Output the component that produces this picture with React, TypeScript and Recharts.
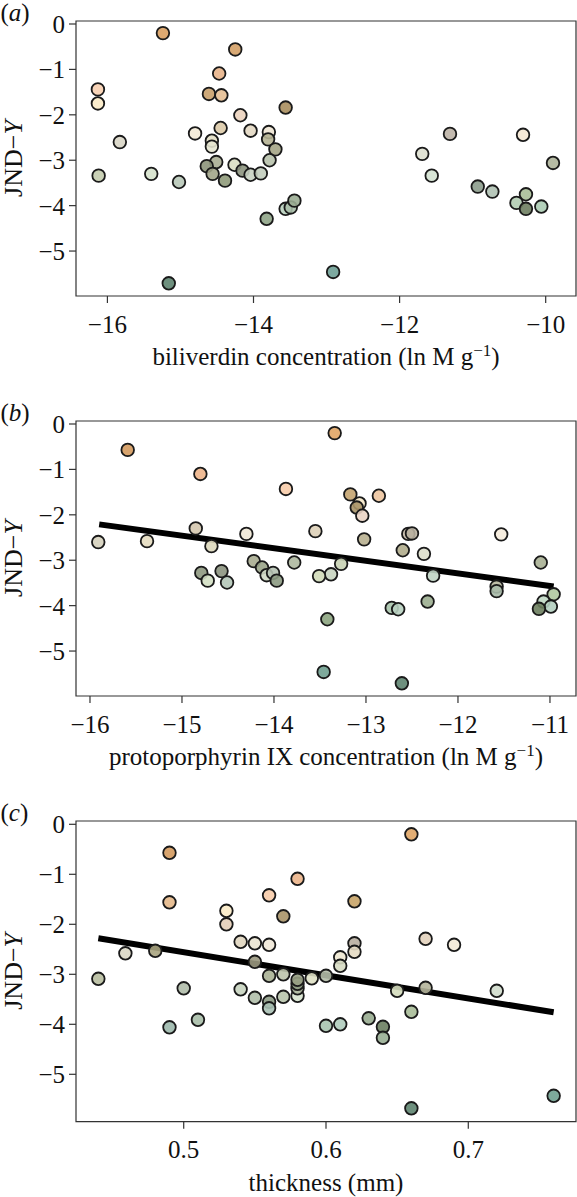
import React from "react";
import { ScatterChart, Scatter, XAxis, YAxis, ReferenceArea, Cell, Label } from "recharts";

const FONT = "'Liberation Serif', 'Times New Roman', Times, serif";

// ---------- Panel (a): biliverdin ----------
const biliverdinX = [-15.24, -14.25, -14.47, -16.13, -14.61, -14.44, -16.13, -13.56, -14.18, -14.45, -14.80, -14.04, -13.79, -13.80, -15.83, -14.57, -14.57, -13.70, -13.78, -14.51, -14.26, -14.64, -14.56, -14.15, -14.04, -13.90, -14.39, -16.12, -15.40, -15.02, -13.82, -13.56, -13.49, -13.44, -15.16, -12.91, -11.69, -11.56, -11.31, -10.31, -10.93, -10.73, -9.90, -10.27, -10.40, -10.27, -10.06];
const biliverdinY = [-0.20, -0.56, -1.09, -1.44, -1.54, -1.57, -1.75, -1.84, -2.01, -2.29, -2.41, -2.35, -2.38, -2.54, -2.60, -2.57, -2.70, -2.76, -3.00, -3.04, -3.10, -3.13, -3.30, -3.23, -3.32, -3.29, -3.45, -3.34, -3.30, -3.48, -4.29, -4.07, -4.04, -3.89, -5.71, -5.46, -2.86, -3.34, -2.42, -2.44, -3.58, -3.69, -3.06, -3.75, -3.94, -4.07, -4.02];
const biliverdinColors = ["#D9A062", "#D4A066", "#E8B48A", "#F7CFB0", "#C9A06A", "#E6BF94", "#FBEBC8", "#A88E5E", "#EBD3BE", "#DCCAA8", "#F3EAD6", "#E3D8C3", "#EEE6D4", "#B5B394", "#D9D6C6", "#E2DEC4", "#E6E5D0", "#A5A586", "#B8C2AC", "#AAAE94", "#DADFC2", "#8C947A", "#A2A58A", "#8C947E", "#C8D2C2", "#C2CDBD", "#8F9A7A", "#C4CCAE", "#D6E2CC", "#B8C8B8", "#8FA487", "#B8CFBC", "#A8BEA8", "#9AAC92", "#5E8470", "#6FA096", "#DEE0D0", "#D4E2D2", "#BDB2A6", "#F5E8D4", "#8C9C8C", "#B0C2B4", "#AEB49A", "#AABF98", "#B4CDB4", "#6E7E60", "#ACCCB4"];
const biliverdinTicks = [-16, -14, -12, -10];

// ---------- Panel (b): protoporphyrin IX ----------
const protoX = [-15.59, -14.80, -13.87, -15.91, -14.85, -15.38, -14.68, -14.30, -14.79, -14.72, -14.57, -14.51, -14.22, -14.13, -14.08, -14.01, -13.97, -13.78, -13.55, -13.34, -13.17, -13.07, -13.10, -13.04, -12.86, -13.02, -12.60, -12.54, -12.50, -12.37, -11.53, -13.27, -13.38, -13.51, -12.27, -11.58, -11.58, -11.10, -10.96, -11.07, -10.99, -11.12, -12.33, -12.72, -12.65, -13.42, -13.46, -12.61];
const protoY = [-0.57, -1.10, -1.43, -2.60, -2.30, -2.58, -2.69, -2.42, -3.28, -3.45, -3.24, -3.49, -3.02, -3.16, -3.33, -3.28, -3.45, -3.05, -2.36, -0.20, -1.55, -1.75, -1.84, -2.02, -1.58, -2.54, -2.78, -2.42, -2.41, -2.86, -2.43, -3.08, -3.31, -3.35, -3.34, -3.58, -3.68, -3.05, -3.75, -3.91, -4.02, -4.07, -3.91, -4.05, -4.08, -4.30, -5.46, -5.71];
const protoColors = ["#D49A5E", "#EDB48A", "#F7CCAA", "#D6D2BE", "#D4C7AE", "#E4DCC0", "#DDD8BC", "#F0E8D6", "#8E9880", "#D4E0C4", "#8C9480", "#B4C6B8", "#A8AC90", "#9AA488", "#D0D9C4", "#B6C2B2", "#8C9A82", "#AEB8A0", "#DDD0B8", "#E0A565", "#C4A470", "#F5E8C8", "#A89468", "#EAD4C4", "#ECC49E", "#B8B090", "#B0AC8C", "#C5BAA8", "#B8B0A0", "#DEDFCC", "#F5EBDC", "#C8D2B4", "#C8D4C0", "#D0DAB8", "#C0D4C4", "#B8B8A0", "#A8BAA8", "#A8B094", "#B0C8A0", "#C0D8C4", "#B4CFC0", "#6C7E5E", "#9CAE90", "#A8C4AC", "#B8D0C0", "#8CA480", "#70A090", "#5E8470"];
const protoTicks = [-16, -15, -14, -13, -12, -11];
const protoFitX = [-15.90, -10.96];
const protoFitY = [-2.21, -3.58];

// ---------- Panel (c): thickness ----------
const thickX = [0.49, 0.49, 0.56, 0.57, 0.58, 0.53, 0.53, 0.54, 0.55, 0.56, 0.44, 0.459, 0.48, 0.55, 0.50, 0.49, 0.51, 0.54, 0.55, 0.56, 0.57, 0.56, 0.56, 0.57, 0.62, 0.62, 0.62, 0.61, 0.61, 0.58, 0.58, 0.58, 0.58, 0.59, 0.60, 0.61, 0.63, 0.66, 0.67, 0.69, 0.65, 0.67, 0.72, 0.66, 0.60, 0.64, 0.64, 0.66, 0.76];
const thickY = [-0.57, -1.56, -1.42, -1.84, -1.09, -1.73, -2.00, -2.35, -2.38, -2.41, -3.09, -2.58, -2.53, -2.75, -3.28, -4.06, -3.91, -3.30, -3.47, -3.03, -3.00, -3.55, -3.68, -3.45, -1.54, -2.38, -2.55, -2.66, -2.83, -3.43, -3.28, -3.19, -3.11, -3.08, -3.03, -4.00, -3.88, -0.20, -2.29, -2.41, -3.33, -3.27, -3.33, -3.75, -4.03, -4.05, -4.27, -5.68, -5.43];
const thickColors = ["#D49A5E", "#E4B88A", "#F7CCAA", "#A89468", "#EBB48A", "#FBEBC8", "#E4CEB8", "#E0D6C0", "#EAE4D2", "#F0E8D8", "#B8BEA0", "#DCD8C6", "#A8A480", "#9A9880", "#B0BCAA", "#9CB8AC", "#A8BEA8", "#C8D4C0", "#B0BEAA", "#A8B094", "#BCC4AC", "#8C9A84", "#A8C0B4", "#B8C4AC", "#C8A468", "#B8AEA0", "#E6DCC4", "#EEE8D2", "#D6DAC2", "#D8E4D0", "#AEB8A0", "#8C9A80", "#98A084", "#DEE0C4", "#B4BCA8", "#B0CCBC", "#98AC90", "#E0A565", "#E2D2BC", "#F4EAD8", "#D4DCBC", "#B4B49A", "#D0DCCC", "#A8BC98", "#A8C4B0", "#6C7E60", "#98AE94", "#5E8470", "#70A090"];
const thickTicks = [0.5, 0.6, 0.7];
const thickFitX = [0.44, 0.76];
const thickFitY = [-2.28, -3.76];

const yTicks = [0, -1, -2, -3, -4, -5];

const fmt = (v: number) => (v < 0 ? "\u2212" + String(Math.abs(v)) : String(v));

const Dot = (props: any) => {
  const { cx, cy, fill } = props;
  if (cx == null || cy == null) return <g />;
  return (
    <circle cx={cx} cy={cy} r={6.3} fill={fill} fillOpacity={0.9} stroke="#1a1a1a" strokeWidth={1.8} />
  );
};

const NoDot = () => <g />;

type PanelProps = {
  top: number;
  height: number;
  plotHeight: number;
  xDomain: [number, number];
  yDomain: [number, number];
  xTicks: number[];
  xs: number[];
  ys: number[];
  colors: string[];
  fitX?: number[];
  fitY?: number[];
  letter: string;
  title: React.ReactNode;
};

function Panel(p: PanelProps) {
  const plotTop = 21;
  const plotBottom = plotTop + p.plotHeight;
  const xAxisHeight = p.height - plotBottom;
  const data = p.xs.map((x, i) => ({ x, y: p.ys[i] }));
  const fitData = p.fitX && p.fitY ? p.fitX.map((x, i) => ({ x, y: p.fitY![i] })) : null;
  const midY = plotTop + p.plotHeight / 2;
  return (
    <div style={{ position: "absolute", left: 0, top: p.top, width: 577, height: p.height }}>
      <ScatterChart width={577} height={p.height} margin={{ top: plotTop, right: 1, bottom: 0, left: 0 }}>
        <XAxis
          type="number"
          dataKey="x"
          domain={p.xDomain}
          allowDataOverflow
          ticks={p.xTicks}
          interval={0}
          tickFormatter={fmt}
          tickSize={7}
          tickMargin={12}
          axisLine={false}
          tickLine={{ stroke: "#333", strokeWidth: 1.2 }}
          tick={{ fontFamily: FONT, fontSize: 25, fill: "#111" }}
          height={xAxisHeight}
        >
          <Label
            content={() => (
              <text x={326} y={plotBottom + 69} textAnchor="middle" fontFamily={FONT} fontSize={25} fill="#111">
                {p.title}
              </text>
            )}
          />
        </XAxis>
        <YAxis
          type="number"
          dataKey="y"
          domain={p.yDomain}
          allowDataOverflow
          ticks={yTicks}
          interval={0}
          tickFormatter={fmt}
          tickSize={7}
          tickMargin={4}
          axisLine={false}
          tickLine={{ stroke: "#333", strokeWidth: 1.2 }}
          tick={{ fontFamily: FONT, fontSize: 25, fill: "#111" }}
          width={76}
        >
          <Label
            content={() => (
              <g>
                <text x={0.5} y={20.5} fontFamily={FONT} fontSize={25} fill="#111">
                  (<tspan fontStyle="italic">{p.letter}</tspan>)
                </text>
                <text
                  x={22}
                  y={midY}
                  transform={`rotate(-90 22 ${midY})`}
                  textAnchor="middle"
                  fontFamily={FONT}
                  fontSize={26}
                  fill="#111"
                >
                  JND{"\u2212"}<tspan fontStyle="italic">Y</tspan>
                </text>
              </g>
            )}
          />
        </YAxis>
        <ReferenceArea
          x1={p.xDomain[0]}
          x2={p.xDomain[1]}
          y1={p.yDomain[0]}
          y2={p.yDomain[1]}
          fill="none"
          fillOpacity={0}
          stroke="#333"
          strokeWidth={1.2}
          ifOverflow="visible"
        />
        {fitData && (
          <Scatter
            data={fitData}
            line={{ stroke: "#000", strokeWidth: 6 }}
            lineType="joint"
            shape={NoDot}
            isAnimationActive={false}
          />
        )}
        <Scatter data={data} shape={Dot} isAnimationActive={false}>
          {p.colors.map((c, i) => (
            <Cell key={i} fill={c} />
          ))}
        </Scatter>
      </ScatterChart>
    </div>
  );
}

export default function App() {
  return (
    <div style={{ position: "absolute", left: 0, top: 0, width: 577, height: 1197, background: "#fff", overflow: "hidden" }}>
      <Panel
        top={0}
        height={392}
        plotHeight={275}
        xDomain={[-16.43, -9.585]}
        yDomain={[-5.99, 0.066]}
        xTicks={biliverdinTicks}
        xs={biliverdinX}
        ys={biliverdinY}
        colors={biliverdinColors}
        letter="a"
        title={
          <>
            biliverdin concentration (ln M g<tspan dy={-9} fontSize={17}>{"\u22121"}</tspan>
            <tspan dy={9} fontSize={25}>)</tspan>
          </>
        }
      />
      <Panel
        top={400}
        height={392}
        plotHeight={275}
        xDomain={[-16.152, -10.717]}
        yDomain={[-5.99, 0.066]}
        xTicks={protoTicks}
        xs={protoX}
        ys={protoY}
        colors={protoColors}
        fitX={protoFitX}
        fitY={protoFitY}
        letter="b"
        title={
          <>
            protoporphyrin IX concentration (ln M g<tspan dy={-9} fontSize={17}>{"\u22121"}</tspan>
            <tspan dy={9} fontSize={25}>)</tspan>
          </>
        }
      />
      <Panel
        top={800}
        height={397}
        plotHeight={300.7}
        xDomain={[0.4243, 0.7757]}
        yDomain={[-5.948, 0.066]}
        xTicks={thickTicks}
        xs={thickX}
        ys={thickY}
        colors={thickColors}
        fitX={thickFitX}
        fitY={thickFitY}
        letter="c"
        title="thickness (mm)"
      />
    </div>
  );
}
